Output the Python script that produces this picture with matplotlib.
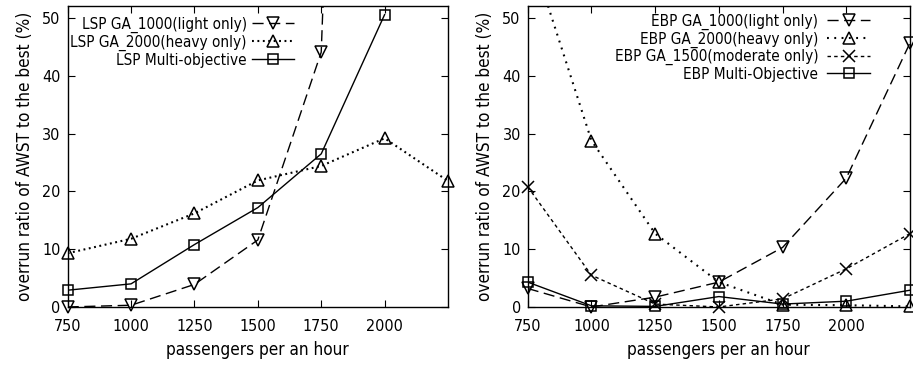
import matplotlib
matplotlib.use("Agg")
import matplotlib.pyplot as plt
from matplotlib.lines import Line2D
import numpy as np

plt.rcParams["font.family"] = ["DejaVu Sans"]
plt.rcParams["font.stretch"] = "condensed"

passengers = np.array([750, 1000, 1250, 1500, 1750, 2000, 2250])
tick_labels = ["750", "1000", "1250", "1500", "1750", "2000"]

# left panel (LSP)
lsp_ga1000 = np.array([0.0, 0.3, 3.9, 11.6, 44.1, 340.0, np.nan])
lsp_ga2000 = np.array([9.3, 11.8, 16.2, 21.9, 24.4, 29.2, 21.8])
lsp_multi = np.array([2.9, 4.0, 10.8, 17.2, 26.5, 50.6, np.nan])

# right panel (EBP)
ebp_ga1000 = np.array([3.2, 0.0, 1.7, 4.3, 10.3, 22.3, 45.7])
ebp_ga2000 = np.array([63.0, 28.8, 12.7, 4.3, 0.4, 0.3, 0.1])
ebp_ga1500 = np.array([20.8, 5.5, 0.5, 0.0, 1.4, 6.6, 12.7])
ebp_multi = np.array([4.3, 0.2, 0.1, 1.8, 0.5, 1.0, 2.9])

YMAX = 52.1

styles = {
    "ga1000": dict(ls=(0, (8, 4)), marker="v", ms=8),
    "ga2000_l": dict(ls=(0, (0.9, 1.7)), marker="^", ms=8, lw=1.5),
    "ga2000_r": dict(ls=(0, (0.9, 2.6)), marker="^", ms=8, lw=1.5),
    "ga1500": dict(ls=(0, (2.5, 2.3)), marker="x", ms=8),
    "multi": dict(ls="-", marker="s", ms=7),
}


def draw_series(ax, y, key, label, handles):
    st = dict(styles[key])
    lw = st.pop("lw", 1.0)
    ax.plot(passengers, y, color="black", lw=lw, ls=st["ls"])
    ok = np.isfinite(y) & (y <= YMAX)
    ax.plot(passengers[ok], y[ok], color="black", ls="none", marker=st["marker"],
            ms=st["ms"], mfc="none", mew=1.1, clip_on=False)
    handles.append(Line2D([], [], color="black", lw=lw, ls=st["ls"], marker=st["marker"],
                          ms=st["ms"], mfc="none", mew=1.1, label=label))


def setup_axes(ax):
    ax.set_xlim(750, 2250)
    ax.set_ylim(0, YMAX)
    ax.set_xticks(passengers[:-1])
    ax.set_xticklabels(tick_labels)
    ax.set_yticks(np.arange(0, 51, 10))
    ax.tick_params(direction="in", top=True, right=True, length=5, labelsize=11.5)
    ax.tick_params(axis="x", pad=9)
    ax.tick_params(axis="y", pad=5)
    ax.set_xlabel("passengers per an hour", fontsize=12.3, labelpad=5)
    ax.set_ylabel("overrun ratio of AWST to the best (%)", fontsize=12.3, labelpad=6)
    for sp in ax.spines.values():
        sp.set_linewidth(1.0)


fig = plt.figure(figsize=(9.13, 3.65), dpi=100)
ax1 = fig.add_axes([0.0741, 0.159, 0.4166, 0.8247])
ax2 = fig.add_axes([0.578, 0.159, 0.4187, 0.8247])

h1 = []
draw_series(ax1, lsp_ga1000, "ga1000", "LSP GA_1000(light only)", h1)
draw_series(ax1, lsp_ga2000, "ga2000_l", "LSP GA_2000(heavy only)", h1)
draw_series(ax1, lsp_multi, "multi", "LSP Multi-objective", h1)
setup_axes(ax1)
ax1.legend(handles=h1, loc="upper right", bbox_to_anchor=(0.616, 0.99), frameon=False,
           markerfirst=False, fontsize=11, handlelength=2.8, handletextpad=0.3,
           labelspacing=0.12, borderpad=0, numpoints=1)

h2 = []
draw_series(ax2, ebp_ga1000, "ga1000", "EBP GA_1000(light only)", h2)
draw_series(ax2, ebp_ga2000, "ga2000_r", "EBP GA_2000(heavy only)", h2)
draw_series(ax2, ebp_ga1500, "ga1500", "EBP GA_1500(moderate only)", h2)
draw_series(ax2, ebp_multi, "multi", "EBP Multi-Objective", h2)
setup_axes(ax2)
ax2.legend(handles=h2, loc="upper right", bbox_to_anchor=(0.916, 1.0), frameon=False,
           markerfirst=False, fontsize=11, handlelength=2.8, handletextpad=0.6,
           labelspacing=0.1, borderpad=0, numpoints=1)

fig.savefig("out.png", dpi=100)
